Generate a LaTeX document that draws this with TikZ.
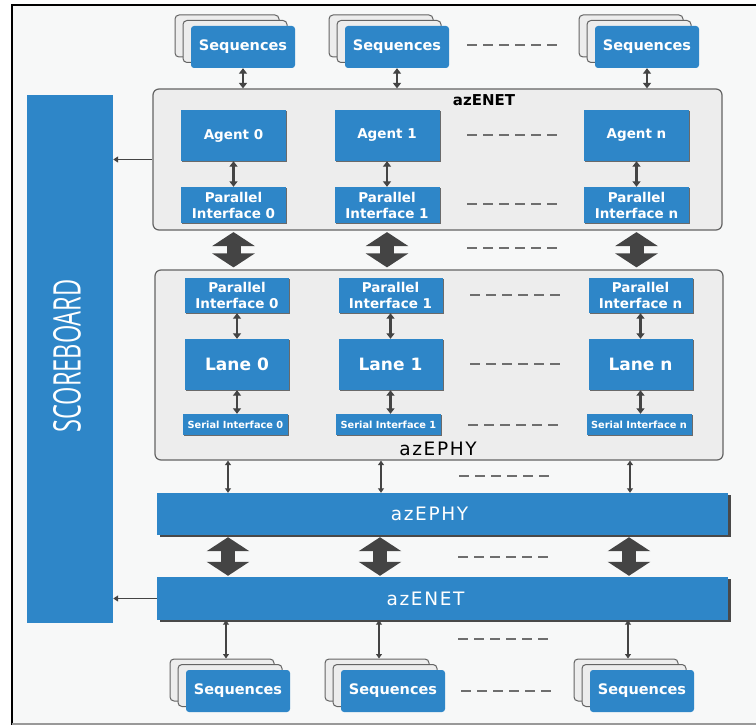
\documentclass[tikz,border=0pt]{standalone}
\usepackage{fontspec}
\setmainfont{DejaVu Sans}
\newfontfamily\scfont{Open Sans}
\newfontfamily\spacedfont[LetterSpace=9]{DejaVu Sans}
\usetikzlibrary{arrows.meta,shadows}
\definecolor{myblue}{RGB}{46,134,200}
\definecolor{boxgray}{RGB}{237,237,237}
\definecolor{edgegray}{RGB}{100,100,100}
\definecolor{arrowgray}{RGB}{68,68,68}
\definecolor{bggray}{RGB}{247,248,248}
\definecolor{dashgray}{RGB}{110,110,110}
\begin{document}
\begin{tikzpicture}[x=1pt,y=-1pt,
  bluebox/.style={fill=myblue, text=white, inner sep=0pt, align=center},
  shbox/.style={bluebox, drop shadow={shadow xshift=1.3pt, shadow yshift=-1.3pt, opacity=0.55, fill=black}},
  agentbox/.style={shbox, minimum width=105pt, minimum height=51pt, font=\bfseries\fontsize{13.5}{16}\selectfont},
  pibox/.style={shbox, minimum width=105pt, minimum height=36pt, font=\bfseries\fontsize{13.5}{16}\selectfont},
  lanebox/.style={shbox, minimum width=104pt, minimum height=51pt, font=\bfseries\fontsize{17}{20}\selectfont},
  sibox/.style={shbox, minimum width=105pt, minimum height=21pt, font=\bfseries\fontsize{9.8}{12}\selectfont},
  barbox/.style={bluebox, minimum width=571pt, minimum height=42pt, drop shadow={shadow xshift=2.5pt, shadow yshift=-2pt, opacity=0.7, fill=black}},
  barlabel/.style={text=white, inner sep=0pt, font=\spacedfont\fontsize{18.5}{21}\selectfont},
  seqfront/.style={bluebox, rounded corners=3pt, minimum width=104pt, minimum height=42pt, font=\bfseries\fontsize{14.5}{17}\selectfont},
  seqback/.style={fill=boxgray, draw=edgegray, line width=1pt, rounded corners=4pt, minimum width=104pt, minimum height=42pt, inner sep=0pt},
  container/.style={fill=boxgray, draw=edgegray, line width=1.2pt, rounded corners=6pt, inner sep=0pt},
  sarrow/.style={draw=arrowgray, line width=2.2pt, {Triangle[width=8pt,length=5.5pt]}-{Triangle[width=8pt,length=5.5pt]}},
  tarrow/.style={draw=arrowgray, line width=1.4pt, {Triangle[width=6pt,length=4.5pt]}-{Triangle[width=6pt,length=4.5pt]}},
  bigarrow/.style={draw=arrowgray, line width=14pt, {Triangle[width=42pt,length=14pt]}-{Triangle[width=42pt,length=14pt]}},
  sbarrow/.style={draw=arrowgray, line width=1.3pt, -{Triangle[width=6pt,length=5pt]}},
  dashline/.style={draw=dashgray, line width=1.2pt, dash pattern=on 10pt off 6pt}
]
\useasboundingbox (0,0) rectangle (756,725);
% background and frame
\fill[bggray] (12,5) rectangle (756,725);
\draw[black, line width=2.5pt] (12,725) -- (12,5) -- (756,5);
\draw[gray!80, line width=2pt] (12,723.5) -- (756,723.5);

% containers
\node[container, minimum width=569pt, minimum height=141pt] (enet) at (437.5,159.5) {};
\node[container, minimum width=568pt, minimum height=190pt] (ephy) at (439,365) {};
\node[inner sep=0pt, font=\bfseries\fontsize{15}{17}\selectfont] (enetlbl) at (484,100) {azENET};
\node[inner sep=0pt, font=\spacedfont\fontsize{18.5}{21}\selectfont] (ephylbl) at (438,449) {azEPHY};

% scoreboard
\node[bluebox, minimum width=86pt, minimum height=528pt] (score) at (70,359) {};
\node[text=white, inner sep=0pt, rotate=90, font=\scfont\fontsize{38}{40}\selectfont] (scoretxt) at (67,356) {\scalebox{0.62}[1]{SCOREBOARD}};

% top sequences
\foreach \n/\x in {1/243,2/397,3/647}{
  \node[seqback] (tsb\n) at (\x-16,36) {};
  \node[seqback] (tsm\n) at (\x-8,41.5) {};
  \node[seqfront] (ts\n) at (\x,47) {Sequences};
}
% bottom sequences
\foreach \n/\x in {1/238,2/393,3/642}{
  \node[seqback] (bsb\n) at (\x-16,680) {};
  \node[seqback] (bsm\n) at (\x-8,685.5) {};
  \node[seqfront] (bs\n) at (\x,691) {Sequences};
}

% azENET internals
\node[agentbox] (a0) at (233.5,135.5) {Agent 0};
\node[agentbox] (a1) at (387,135.5) {Agent 1};
\node[agentbox] (an) at (636.5,135.5) {Agent n};
\node[pibox] (p0) at (233.5,205) {Parallel\\Interface 0};
\node[pibox] (p1) at (387,205) {Parallel\\Interface 1};
\node[pibox] (pn) at (636.5,205) {Parallel\\Interface n};

% azEPHY internals
\node[pibox, minimum width=104pt, minimum height=35pt] (q0) at (237,295.5) {Parallel\\Interface 0};
\node[pibox, minimum width=104pt, minimum height=35pt] (q1) at (390.5,295.5) {Parallel\\Interface 1};
\node[pibox, minimum width=104pt, minimum height=35pt] (qn) at (640.5,295.5) {Parallel\\Interface n};
\node[lanebox] (l0) at (237,364.5) {Lane 0};
\node[lanebox] (l1) at (390.5,364.5) {Lane 1};
\node[lanebox] (ln) at (640.5,364.5) {Lane n};
\node[sibox] (s0) at (235.5,424.5) {Serial Interface 0};
\node[sibox] (s1) at (388.5,424.5) {Serial Interface 1};
\node[sibox] (sn) at (639,424.5) {Serial Interface n};

% bars
\node[barbox, label={[barlabel, xshift=-13pt]center:azEPHY}] (barphy) at (442.5,514) {};
\node[barbox, minimum height=43pt, label={[barlabel, xshift=-17pt]center:azENET}] (barnet) at (442.5,598.5) {};

% column coordinates
\coordinate (c1) at (228,0);
\coordinate (c2) at (381,0);
\coordinate (c3) at (630,0);
\coordinate (d1) at (228,0);
\coordinate (d2) at (380,0);
\coordinate (d3) at (629,0);
\coordinate (e1) at (226,0);
\coordinate (e2) at (379,0);
\coordinate (e3) at (628,0);

% small arrows
\foreach \n in {1,2,3}{
  \draw[sarrow] (ts\n.south) -- (ts\n.south |- enet.north);
}
\draw[sarrow] (a0) -- (p0);
\draw[sarrow] (a1) -- (p1);
\draw[sarrow] (an) -- (pn);
\draw[sarrow] (q0) -- (l0);
\draw[sarrow] (q1) -- (l1);
\draw[sarrow] (qn) -- (ln);
\draw[sarrow] (l0.south) -- (l0.south |- s0.north);
\draw[sarrow] (l1.south) -- (l1.south |- s1.north);
\draw[sarrow] (ln.south) -- (ln.south |- sn.north);

% big arrows
\foreach \p in {p0,p1,pn}{
  \draw[bigarrow, shorten <=1.5pt, shorten >=2pt] (enet.south -| \p) -- (ephy.north -| \p);
}
\foreach \n in {1,2,3}{
  \draw[bigarrow, shorten <=2pt, shorten >=1pt] (d\n |- barphy.south) -- (d\n |- barnet.north);
  \draw[tarrow] (c\n |- ephy.south) -- (c\n |- barphy.north);
  \draw[tarrow] (e\n |- barnet.south) -- (e\n |- bsb\n.north);
}

% scoreboard arrows
\draw[sbarrow] (enet.west) -- (score.east |- enet.west);
\draw[sbarrow] (barnet.west) -- (score.east |- barnet.west);

% dashes
\draw[dashline] (467,45) -- (561,45);
\draw[dashline] (467,135) -- (561,135);
\draw[dashline] (467,204) -- (561,204);
\draw[dashline] (467,248) -- (561,248);
\draw[dashline] (470,295) -- (564,295);
\draw[dashline] (470,364) -- (564,364);
\draw[dashline] (468,425) -- (562,425);
\draw[dashline] (459,476) -- (553,476);
\draw[dashline] (458,557) -- (552,557);
\draw[dashline] (458,639) -- (552,639);
\draw[dashline] (461,691) -- (555,691);
\end{tikzpicture}
\end{document}
